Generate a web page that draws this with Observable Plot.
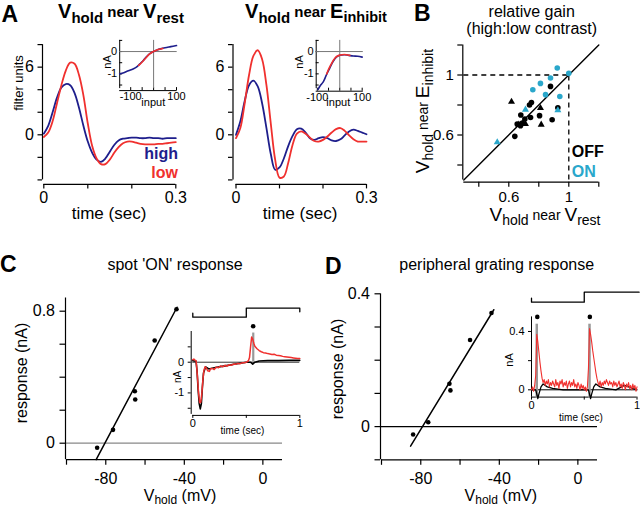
<!DOCTYPE html>
<html><head><meta charset="utf-8">
<script src="https://cdn.jsdelivr.net/npm/d3@7"></script>
<script src="https://cdn.jsdelivr.net/npm/@observablehq/plot@0.6"></script>
<style>
body{margin:0;background:#fff;}
#fig{position:relative;width:640px;height:512px;overflow:hidden;font-family:"Liberation Sans",Arial,Helvetica,sans-serif;color:#000;background:#fff;}
.lab{position:absolute;white-space:nowrap;line-height:1;}
.letter{position:absolute;font-weight:bold;font-size:23px;line-height:1.1;}
</style>
</head><body><div id="fig"></div>
<script>
// ---------- DATA ----------
// Panel A: linear filters (filter units) vs time (sec)
const tA = [0,0.01,0.02,0.03,0.04,0.05,0.06,0.07,0.08,0.09,0.10,0.11,0.12,0.13,0.14,0.15,0.16,0.17,0.18,0.19,0.20,0.21,0.22,0.23,0.24,0.25,0.26,0.27,0.28,0.29,0.30];
const highRest = [0.1,0.8,2.0,3.3,4.2,4.5,4.4,3.7,2.4,0.8,-0.6,-1.6,-2.2,-2.4,-2.1,-1.5,-0.9,-0.5,-0.35,-0.3,-0.25,-0.25,-0.3,-0.3,-0.25,-0.3,-0.3,-0.35,-0.3,-0.3,-0.3];
const lowRest = [-0.2,0.2,1.2,2.8,4.4,5.7,6.4,6.3,5.3,3.5,1.0,-1.0,-2.1,-2.6,-2.6,-2.2,-1.6,-1.1,-0.75,-0.6,-0.6,-0.7,-0.8,-0.85,-0.85,-0.85,-0.8,-0.8,-0.75,-0.7,-0.65];
const highInh = [0.0,1.2,3.0,4.4,4.8,4.3,2.8,0.6,-1.7,-3.1,-2.9,-2.1,-1.0,-0.1,0.5,0.55,0.2,-0.3,-0.45,-0.3,-0.2,-0.3,-0.5,-0.55,-0.4,-0.05,0.3,0.45,0.35,0.2,0.05];
const lowInh = [-0.3,0.6,2.8,5.3,7.0,7.5,6.7,4.4,1.0,-2.2,-3.8,-3.7,-2.5,-0.9,0.1,0.3,0.1,-0.25,-0.55,-0.6,-0.45,-0.15,0.2,0.5,0.6,0.35,-0.05,-0.4,-0.6,-0.6,-0.6];
const filterTicks = [-4,-2,0,2,4,6,8], filterLabels = [0,6];
const timeTicksA = [0,0.1,0.2,0.3], timeLabelsA = [0,0.3];
// Panel A insets: static nonlinearity (nA) vs input
const inRestHighX = [-148,-130,-110,-90,-75,-60,-45,-30,-15,0,15,30,50,75,100];
const inRestHighY = [-1.0,-0.95,-0.86,-0.78,-0.7,-0.55,-0.4,-0.22,-0.08,0.0,0.07,0.12,0.17,0.22,0.27];
const inRestLowX = [-65,-50,-35,-20,-5,10,25,40];
const inRestLowY = [-0.62,-0.47,-0.3,-0.13,-0.02,0.05,0.1,0.14];
const inInhHighX = [-97,-85,-75,-68,-62,-55,-45,-30,-15,0,20,40,60,80,100];
const inInhHighY = [-1.7,-1.5,-1.38,-1.25,-1.1,-0.95,-0.75,-0.45,-0.25,-0.17,-0.14,-0.17,-0.2,-0.21,-0.25];
const inInhLowX = [-58,-50,-40,-30,-20,-10,0,10,20,30,45];
const inInhLowY = [-1.0,-0.8,-0.6,-0.42,-0.28,-0.2,-0.16,-0.14,-0.13,-0.14,-0.17];
const insetYTicks = [-1.5,-1,-0.5,0,0.5], insetYLabels = [0,-1];
const insetXTicks = [-100,-50,0,50,100], insetXLabels = [-100,100];
// Panel B: relative gain
const onCircRest = [0.923,1.0,0.878,0.811,0.76,0.845,0.94];
const onCircInh  = [1.047,1.011,0.98,0.944,0.902,0.869,0.857];
const onTriRest = [0.711,0.927,0.523];
const onTriInh  = [0.769,0.765,0.551];
const offCircRest = [0.878,0.751,0.738,0.68,0.745,0.805,0.889,0.707,0.64,0.656,0.678,0.69,0.927];
const offCircInh  = [0.924,0.817,0.8,0.733,0.717,0.729,0.702,0.707,0.591,0.673,0.662,0.68,0.782];
const offTriRest = [0.618,0.811,0.816,0.711,0.667];
const offTriInh  = [0.822,0.78,0.669,0.673,0.669];
const gainTicks = [0.4,0.6,0.8,1,1.2], gainLabels = [0.6,1];
const unity = [0.3,1.2];
// Panel C: spot 'ON' response
const vholdC = [-84.4,-76.3,-65.2,-65.0,-55.1,-44.0];
const respC = [-0.028,0.081,0.315,0.265,0.622,0.812];
const fitCV = [-84.9,-43.7], fitCR = [-0.1,0.824];
const respTicksC = [0,0.2,0.4,0.6,0.8], respLabelsC = [0,0.8];
const vTicks = [-100,-80,-60,-40,-20,0], vLabels = [-80,-40,0];
const tCred = [0,0.01,0.02,0.03,0.035,0.045,0.055,0.065,0.075,0.085,0.095,0.105,0.115,0.125,0.14,0.155,0.165,0.18,0.2,0.22,0.24,0.26,0.28,0.3,0.32,0.34,0.36,0.38,0.4,0.42,0.44,0.46,0.48,0.5,0.51,0.52,0.53,0.54,0.55,0.56,0.57,0.58,0.6,0.62,0.64,0.66,0.68,0.7,0.72,0.74,0.76,0.78,0.8,0.82,0.84,0.86,0.88,0.9,0.92,0.94,0.96,0.98,1.0];
const redC = [0.08,0.1,0.07,0.05,-0.1,-0.55,-1.05,-1.32,-1.3,-1.0,-0.55,-0.25,-0.15,-0.18,-0.28,-0.3,-0.22,-0.2,-0.24,-0.16,-0.18,-0.12,-0.15,-0.1,-0.13,-0.08,-0.1,-0.06,-0.07,-0.04,-0.05,-0.02,-0.02,0.0,0.02,0.05,0.15,0.5,0.82,0.75,0.62,0.52,0.44,0.38,0.34,0.31,0.3,0.28,0.27,0.25,0.26,0.23,0.22,0.21,0.19,0.18,0.17,0.16,0.15,0.14,0.13,0.12,0.12];
const tCblack = [0,0.03,0.04,0.05,0.06,0.07,0.08,0.09,0.1,0.12,0.15,0.2,0.3,0.4,0.5,0.54,0.56,0.58,0.62,0.7,0.8,0.9,1.0];
const blackC = [0.05,0.03,-0.3,-0.9,-1.35,-1.52,-1.35,-0.8,-0.35,-0.15,-0.22,-0.18,-0.12,-0.06,0.0,0.0,-0.06,0.0,0.04,0.05,0.05,0.06,0.06];
const peakCT = [0.564], peakCV = [1.17];
const barCT = [0.565], barCTop = [0.95];
const stimT = [0,0,0.5,0.5,1,1], stimC = [0.45,0,0,1,1,0.6];
const insetCYTicks = [-1.5,-1,-0.5,0,0.5], insetCYLabels = [0,-1];
const secTicks = [0,0.5,1], secLabels = [0,1];
// Panel D: peripheral grating response
const vholdD = [-83.9,-76.2,-65.4,-64.9,-54.9,-44.0];
const respD = [-0.024,0.013,0.129,0.109,0.261,0.342];
const fitDV = [-85.2,-42.8], fitDR = [-0.059,0.352];
const respTicksD = [-0.1,0,0.1,0.2,0.3,0.4], respLabelsD = [0,0.4];
const tD = [0,0.01,0.02,0.03,0.04,0.05,0.06,0.07,0.08,0.09,0.1,0.11,0.12,0.13,0.14,0.15,0.16,0.17,0.18,0.19,0.2,0.21,0.22,0.23,0.24,0.25,0.26,0.27,0.28,0.29,0.3,0.31,0.32,0.33,0.34,0.35,0.36,0.37,0.38,0.39,0.4,0.41,0.42,0.43,0.44,0.45,0.46,0.47,0.48,0.49,0.5,0.51,0.52,0.53,0.54,0.55,0.56,0.57,0.58,0.59,0.6,0.61,0.62,0.63,0.64,0.65,0.66,0.67,0.68,0.69,0.7,0.71,0.72,0.73,0.74,0.75,0.76,0.77,0.78,0.79,0.8,0.81,0.82,0.83,0.84,0.85,0.86,0.87,0.88,0.89,0.9,0.91,0.92,0.93,0.94,0.95,0.96,0.97,0.98,0.99,1.0];
const redD = [0.00,0.02,-0.01,0.03,0.10,0.38,0.33,0.26,0.19,0.13,
 0.08,0.05,0.07,0.03,0.06,0.04,0.07,0.02,0.05,0.03,
 0.06,0.04,0.02,0.07,0.03,0.05,0.01,0.06,0.04,0.07,
 0.02,0.05,0.03,0.06,0.01,0.04,0.06,0.02,0.05,0.03,
 0.07,0.02,0.04,0.01,0.05,0.03,0.00,0.04,0.01,0.03,
 0.00,0.02,-0.01,0.02,0.15,0.42,0.38,0.33,0.27,0.22,
 0.17,0.12,0.08,0.05,0.03,0.06,0.02,0.05,0.03,0.06,
 0.04,0.07,0.05,0.03,0.06,0.04,0.05,0.02,0.06,0.03,
 0.05,0.02,0.04,0.06,0.02,0.04,0.01,0.05,0.03,0.00,
 0.04,0.02,0.05,0.01,0.03,0.00,0.04,0.01,0.03,-0.01,
 0.02];
const tDblack = [0,0.04,0.05,0.06,0.07,0.09,0.11,0.15,0.2,0.3,0.4,0.5,0.54,0.55,0.56,0.57,0.59,0.61,0.65,0.7,0.8,0.88,0.92,0.96,1.0];
const blackD = [0,0,-0.03,-0.06,-0.03,0.02,0.04,0.02,0.01,0.0,0.0,0.0,0.0,-0.03,-0.06,-0.03,0.02,0.04,0.02,0.01,0.0,0.03,0.02,0.01,0.0];
const peakDT = [0.055,0.553], peakDV = [0.5,0.5];
const barDT = [0.05,0.55], barDTop = [0.45,0.45], barDBot = [-0.06,-0.06];
const stimTD = [0,0,0.5,0.5,1.02], stimD = [0.4,0,0,1,1];
const insetDYTicks = [0,0.2,0.4], insetDYLabels = [0,0.4];

// ---------- HELPERS ----------
const FONT = '"Liberation Sans", Arial, Helvetica, sans-serif';
const NAVY = "#1e1e8c", RED = "#f0302e", TEAL = "#2aa7cb";
const fig = document.getElementById("fig");
const zip = (a, b) => a.map((v, i) => ({x: v, y: b[i]}));
const fmt = labels => d => labels.includes(d) ? String(d) : "";

function panel({x0, x1, y0, y1, xd, yd, fs = 16, marks, noAxis = false}) {
  const svg = Plot.plot({
    width: 640, height: 512,
    marginLeft: x0, marginRight: 640 - x1, marginTop: y0, marginBottom: 512 - y1,
    x: {domain: xd, label: null, ...(noAxis ? {axis: null} : {})},
    y: {domain: yd, label: null, ...(noAxis ? {axis: null} : {})},
    style: {position: "absolute", left: "0px", top: "0px", background: "transparent", overflow: "visible", fontFamily: FONT, fontSize: fs + "px", color: "#000"},
    marks
  });
  fig.appendChild(svg);
}
function axes({xd, yd, xt, xl, yt, yl, dx = 0, dy = 0, ts = 5, tpx = 3, tpy = 5, sw = 1.2}) {
  return [
    Plot.ruleX([xd[0]], {y1: yd[0], y2: yd[1], dx, stroke: "#000", strokeWidth: sw}),
    Plot.ruleY([yd[0]], {x1: xd[0], x2: xd[1], dy, stroke: "#000", strokeWidth: sw}),
    Plot.axisY(yt, {anchor: "left", dx, tickSize: ts, tickPadding: tpy, tickFormat: fmt(yl), label: null, strokeWidth: sw}),
    Plot.axisX(xt, {anchor: "bottom", dy, tickSize: ts, tickPadding: tpx, tickFormat: fmt(xl), label: null, strokeWidth: sw})
  ];
}
function label(html, x, y, o = {}) {
  const d = document.createElement("div");
  d.className = "lab";
  d.innerHTML = html;
  d.style.left = x + "px"; d.style.top = y + "px";
  d.style.fontSize = (o.size || 16) + "px";
  if (o.bold) d.style.fontWeight = "bold";
  if (o.color) d.style.color = o.color;
  const tx = o.align === "left" ? "0" : o.align === "right" ? "-100%" : "-50%";
  d.style.transform = `translate(${tx},-50%)` + (o.rot ? " rotate(-90deg)" : "");
  fig.appendChild(d);
}
function letter(t, x, y) {
  const d = document.createElement("div");
  d.className = "letter"; d.textContent = t;
  d.style.left = x + "px"; d.style.top = y + "px";
  fig.appendChild(d);
}
const V = (big, sub, bs, ss) => `<span style="font-size:${bs}px">${big}</span><span style="font-size:${ss}px;vertical-align:-0.3em">${sub}</span>`;
const near = s => `<span style="font-size:${s}px;vertical-align:0.1em"> near </span>`;

// ---------- PANEL A ----------
const rowsRest = tA.map((t, i) => ({t, high: highRest[i], low: lowRest[i]}));
const rowsInh = tA.map((t, i) => ({t, high: highInh[i], low: lowInh[i]}));
for (const [rows, x0, x1, dx] of [[rowsRest, 43.3, 175.3, -1.3], [rowsInh, 235.5, 366, -3]]) {
  panel({x0, x1, y0: 44.1, y1: 179.4, xd: [0, 0.3], yd: [-4, 8], fs: 16, marks: [
    ...axes({xd: [0, 0.3], yd: [-4, 8], xt: timeTicksA, xl: timeLabelsA, yt: filterTicks, yl: filterLabels, dx, dy: 4.5, ts: 4.5, tpx: 3, tpy: 4}),
    Plot.line(rows, {x: "t", y: "high", stroke: NAVY, strokeWidth: 1.8, curve: "catmull-rom"}),
    Plot.line(rows, {x: "t", y: "low", stroke: RED, strokeWidth: 1.8, curve: "catmull-rom"})
  ]});
}
// insets (inward ticks)
const insets = [
  {x0: 119.2, x1: 176.7, xd: [-148, 103], hx: inRestHighX, hy: inRestHighY, lx: inRestLowX, ly: inRestLowY, dy: 2},
  {x0: 315.7, x1: 362.8, xd: [-105, 105], hx: inInhHighX, hy: inInhHighY, lx: inInhLowX, ly: inInhLowY, dy: 2.6}
];
for (const s of insets) {
  const yd = [-1.66, 0.5];
  panel({x0: s.x0, x1: s.x1, y0: 39.9, y1: 88.1, xd: s.xd, yd, fs: 11, marks: [
    ...axes({xd: s.xd, yd, xt: insetXTicks, xl: insetXLabels, yt: insetYTicks, yl: insetYLabels, dx: 0, dy: s.dy, ts: -3, tpx: 4.5, tpy: 5.5, sw: 1}),
    Plot.ruleX([0], {y1: yd[0], y2: yd[1], stroke: "#777", strokeWidth: 1}),
    Plot.ruleY([0], {x1: s.xd[0], x2: s.xd[1], stroke: "#777", strokeWidth: 1}),
    Plot.line(zip(s.hx, s.hy), {x: "x", y: "y", stroke: NAVY, strokeWidth: 1.6, curve: "catmull-rom"}),
    Plot.line(zip(s.lx, s.ly), {x: "x", y: "y", stroke: RED, strokeWidth: 1.6, curve: "catmull-rom"})
  ]});
}
letter("A", 1.5, 1.5);
label(`<b>${V("V", "hold", 20, 15)}${near(15)}${V("V", "rest", 20, 15)}</b>`, 121, 12.5);
label(`<b>${V("V", "hold", 20, 15)}${near(15)}${V("E", "inhibit", 20, 14.5)}</b>`, 316, 12.5);
label("filter units", 18, 83, {rot: true, size: 13});
label("time (sec)", 109, 213, {size: 17});
label("time (sec)", 300, 213, {size: 17});
label("high", 178, 154, {bold: true, color: NAVY, align: "right"});
label("low", 178, 173, {bold: true, color: RED, align: "right"});
label("nA", 107, 62, {rot: true, size: 11});
label("input", 153.3, 102, {size: 11});
label("nA", 298.5, 61.7, {rot: true, size: 11});
label("input", 338.3, 102, {size: 11});

// ---------- PANEL B ----------
{
  const xd = [0.3, 1.2], yd = [0.3, 1.2];
  panel({x0: 463.3, x1: 598.3, y0: 44.5, y1: 179.5, xd, yd, fs: 15, marks: [
    ...axes({xd, yd, xt: gainTicks, xl: gainLabels, yt: gainTicks, yl: gainLabels, dx: -1, dy: 2.2, ts: 5, tpx: 4, tpy: 4}),
    Plot.line(unity, {x: d => d, y: d => d, stroke: "#000", strokeWidth: 1.4}),
    Plot.ruleY([1], {x1: xd[0], x2: 1, stroke: "#000", strokeWidth: 1.3, strokeDasharray: "5,4"}),
    Plot.ruleX([1], {y1: yd[0], y2: 1, stroke: "#000", strokeWidth: 1.3, strokeDasharray: "5,4"}),
    Plot.dot(zip(offCircRest, offCircInh), {x: "x", y: "y", r: 2.8, fill: "#000", symbol: "circle"}),
    Plot.dot(zip(offTriRest, offTriInh), {x: "x", y: "y", r: 2.6, fill: "#000", symbol: "triangle"}),
    Plot.dot(zip(onCircRest, onCircInh), {x: "x", y: "y", r: 2.8, fill: TEAL, symbol: "circle"}),
    Plot.dot(zip(onTriRest, onTriInh), {x: "x", y: "y", r: 2.6, fill: TEAL, symbol: "triangle"})
  ]});
}
letter("B", 414, 1);
label("relative gain", 531.7, 12, {size: 16});
label("(high:low contrast)", 531.7, 29, {size: 16});
label(`${V("V", "hold", 19, 14)}${near(14)}${V("E", "inhibit", 19, 14)}`, 424, 111, {rot: true});
label(`${V("V", "hold", 19, 14)}${near(14)}${V("V", "rest", 19, 14)}`, 545, 216);
label("OFF", 571.7, 151.7, {bold: true, align: "left"});
label("ON", 571.7, 171.7, {bold: true, align: "left", color: TEAL});

// ---------- PANEL C ----------
{
  const xd = [-100, 10], yd = [-0.1, 0.88];
  panel({x0: 66, x1: 282, y0: 297.5, y1: 459.2, xd, yd, fs: 16, marks: [
    Plot.ruleY([0], {x1: xd[0], x2: xd[1], stroke: "#888", strokeWidth: 1.2}),
    ...axes({xd, yd, xt: vTicks, xl: vLabels, yt: respTicksC, yl: respLabelsC, dx: -1, dy: 0, ts: 5.5, tpx: 7.5, tpy: 5}),
    Plot.line(zip(fitCV, fitCR), {x: "x", y: "y", stroke: "#000", strokeWidth: 1.5}),
    Plot.dot(zip(vholdC, respC), {x: "x", y: "y", r: 2.3, fill: "#000"})
  ]});
  const xi = [0, 1], yi = [-1.7, 1.0];
  panel({x0: 192.3, x1: 299.3, y0: 331, y1: 413.9, xd: xi, yd: yi, fs: 11, marks: [
    ...axes({xd: xi, yd: yi, xt: secTicks, xl: secLabels, yt: insetCYTicks, yl: insetCYLabels, dx: -1.6, dy: 1, ts: 3, tpx: 1, tpy: 4, sw: 1}),
    Plot.ruleY([0], {x1: 0, x2: 1, stroke: "#333", strokeWidth: 1}),
    Plot.ruleX(barCT.map((t, i) => ({t, top: barCTop[i]})), {x: "t", y1: 0, y2: "top", stroke: "#999", strokeWidth: 2.2}),
    Plot.line(zip(tCblack, blackC), {x: "x", y: "y", stroke: "#000", strokeWidth: 1.6}),
    Plot.line(zip(tCred, redC), {x: "x", y: "y", stroke: RED, strokeWidth: 1.5}),
    Plot.dot(zip(peakCT, peakCV), {x: "x", y: "y", r: 2.3, fill: "#000"})
  ]});
  panel({x0: 192.3, x1: 299.3, y0: 307.7, y1: 316.7, xd: xi, yd: [0, 1], noAxis: true, marks: [
    Plot.line(zip(stimT, stimC), {x: "x", y: "y", stroke: "#000", strokeWidth: 1.3})
  ]});
}
letter("C", 0, 252);
label("spot 'ON' response", 175, 265, {size: 16});
label("response (nA)", 21.5, 373, {rot: true, size: 16});
label(`${V("V", "hold", 16, 12)}<span style="font-size:16px"> (mV)</span>`, 180, 497);
label("nA", 178, 377, {rot: true, size: 10});
label("time (sec)", 242.5, 431, {size: 10});

// ---------- PANEL D ----------
{
  const xd = [-100, 10], yd = [-0.1, 0.4];
  panel({x0: 381, x1: 597, y0: 293.3, y1: 459.3, xd, yd, fs: 16, marks: [
    Plot.ruleY([0], {x1: xd[0], x2: xd[1], stroke: "#000", strokeWidth: 1.2}),
    ...axes({xd, yd, xt: vTicks, xl: vLabels, yt: respTicksD, yl: respLabelsD, dx: -1, dy: 0, ts: 5.5, tpx: 7.5, tpy: 5}),
    Plot.line(zip(fitDV, fitDR), {x: "x", y: "y", stroke: "#000", strokeWidth: 1.5}),
    Plot.dot(zip(vholdD, respD), {x: "x", y: "y", r: 2.3, fill: "#000"})
  ]});
  const xi = [0, 1], yi = [-0.05, 0.5];
  panel({x0: 531, x1: 636.5, y0: 316.4, y1: 396.6, xd: xi, yd: yi, fs: 11, marks: [
    ...axes({xd: xi, yd: yi, xt: secTicks, xl: secLabels, yt: insetDYTicks, yl: insetDYLabels, dx: 0, dy: 0, ts: 3, tpx: 1, tpy: 4, sw: 1}),
    Plot.ruleY([0], {x1: 0, x2: 1, stroke: "#000", strokeWidth: 1}),
    Plot.ruleX(barDT.map((t, i) => ({t, top: barDTop[i], bot: barDBot[i]})), {x: "t", y1: "bot", y2: "top", stroke: "#999", strokeWidth: 2.5}),
    Plot.line(zip(tDblack, blackD), {x: "x", y: "y", stroke: "#000", strokeWidth: 1.3}),
    Plot.line(zip(tD, redD), {x: "x", y: "y", stroke: RED, strokeWidth: 1.1}),
    Plot.dot(zip(peakDT, peakDV), {x: "x", y: "y", r: 2.3, fill: "#000"})
  ]});
  panel({x0: 531, x1: 636.5, y0: 291.7, y1: 301.7, xd: xi, yd: [0, 1], noAxis: true, marks: [
    Plot.line(zip(stimTD, stimD), {x: "x", y: "y", stroke: "#000", strokeWidth: 1.3})
  ]});
}
letter("D", 325, 253.5);
label("peripheral grating response", 496.7, 265, {size: 16});
label("response (nA)", 338, 369, {rot: true, size: 16});
label(`${V("V", "hold", 16, 12)}<span style="font-size:16px"> (mV)</span>`, 500.8, 497);
label("nA", 509, 360, {rot: true, size: 11});
label("time (sec)", 581, 417.5, {size: 10});
</script>
</body></html>
